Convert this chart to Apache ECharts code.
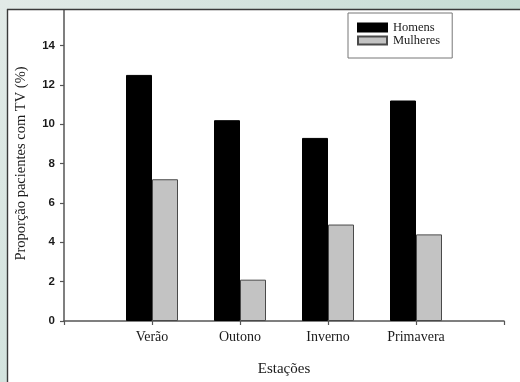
<!DOCTYPE html>
<html>
<head>
<meta charset="utf-8">
<script src="https://cdn.jsdelivr.net/npm/echarts@6/dist/echarts.min.js"></script>
<style>
  html, body { margin: 0; padding: 0; background: #ffffff; }
  #chart { width: 520px; height: 382px; }
</style>
</head>
<body>
<div id="chart"></div>
<script>
// Seasons (blank slots at both ends keep the categories off the axis edges)
const seasons = ['', 'Verão', 'Outono', 'Inverno', 'Primavera', ''];
const homens = [null, 12.5, 10.2, 9.3, 11.2, null];
const mulheres = [null, 7.2, 2.1, 4.9, 4.4, null];
const yTicks = { min: 0, max: 16, step: 2 };

const serif = '"Liberation Serif", "DejaVu Serif", serif';
const sans = '"Liberation Sans", Arial, sans-serif';

const chart = echarts.init(document.getElementById('chart'), null, { renderer: 'canvas' });

chart.setOption({
  backgroundColor: '#ffffff',
  animation: false,
  grid: { left: 64, right: 16, top: 4.3, bottom: 60 },
  legend: {
    orient: 'vertical',
    left: 348,
    top: 13,
    padding: [8, 12, 11, 9],
    itemWidth: 29,
    itemHeight: 8,
    itemGap: 0,
    borderColor: '#777777',
    borderWidth: 1,
    icon: 'rect',
    data: ['Homens', 'Mulheres'],
    textStyle: { fontFamily: serif, fontSize: 12.5, color: '#1a1a1a', lineHeight: 13, padding: [0, 0, 0, 1] }
  },
  xAxis: {
    type: 'category',
    data: seasons,
    boundaryGap: false,
    name: 'Estações',
    nameLocation: 'middle',
    nameGap: 41,
    nameTextStyle: { fontFamily: serif, fontSize: 15, color: '#1a1a1a' },
    axisLine: { lineStyle: { color: '#555555', width: 1.5 } },
    axisTick: { show: true, length: 4, lineStyle: { color: '#555555', width: 1.2 } },
    axisLabel: { fontFamily: serif, fontSize: 14, color: '#1a1a1a', margin: 9, interval: 0 },
    splitLine: { show: false }
  },
  yAxis: {
    type: 'value',
    min: yTicks.min,
    max: yTicks.max,
    interval: yTicks.step,
    name: 'Proporção pacientes com TV (%)',
    nameLocation: 'middle',
    nameGap: 35,
    nameTextStyle: { fontFamily: serif, fontSize: 14.5, color: '#1a1a1a' },
    axisLine: { show: true, lineStyle: { color: '#555555', width: 1.5 } },
    axisTick: { show: true, length: 4, lineStyle: { color: '#555555', width: 1.2 } },
    axisLabel: { fontFamily: sans, fontWeight: 'bold', fontSize: 11.5, color: '#1a1a1a', margin: 9 },
    splitLine: { show: false }
  },
  series: [
    {
      name: 'Homens',
      type: 'bar',
      data: homens,
      barWidth: 26,
      barGap: '0%',
      itemStyle: { color: '#000000', borderColor: '#000000', borderWidth: 1 }
    },
    {
      name: 'Mulheres',
      type: 'bar',
      data: mulheres,
      barWidth: 26,
      barGap: '0%',
      itemStyle: { color: '#c3c3c3', borderColor: '#4a4a4a', borderWidth: 1 }
    }
  ],
  graphic: [
    {
      type: 'rect', z: 100, silent: true,
      shape: { x: 0, y: 0, width: 520, height: 9 },
      style: {
        fill: new echarts.graphic.LinearGradient(0, 0, 1, 0, [
          { offset: 0, color: '#e2eae7' },
          { offset: 1, color: '#c5dcd4' }
        ])
      }
    },
    {
      type: 'rect', z: 100, silent: true,
      shape: { x: 0, y: 0, width: 7, height: 382 },
      style: {
        fill: new echarts.graphic.LinearGradient(0, 0, 0, 1, [
          { offset: 0, color: '#e2eae7' },
          { offset: 1, color: '#d3e3de' }
        ])
      }
    },
    {
      type: 'line', z: 101, silent: true,
      shape: { x1: 7, y1: 9.5, x2: 520, y2: 9.5 },
      style: { stroke: '#3a3a3a', lineWidth: 1.6 }
    },
    {
      type: 'line', z: 101, silent: true,
      shape: { x1: 7.5, y1: 9, x2: 7.5, y2: 382 },
      style: { stroke: '#3a3a3a', lineWidth: 1.4 }
    }
  ]
});
</script>
</body>
</html>
